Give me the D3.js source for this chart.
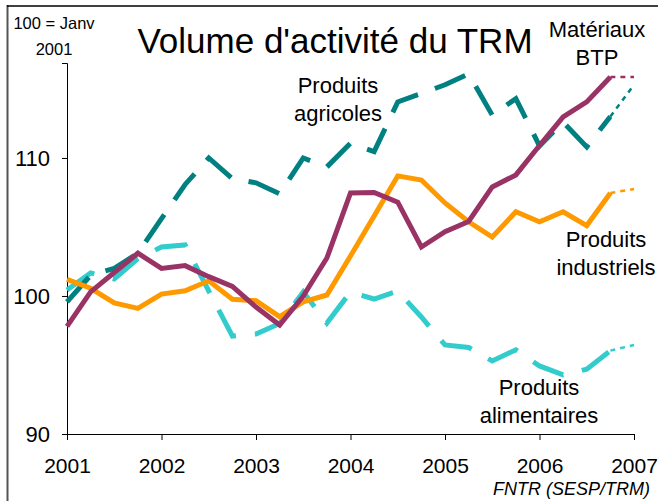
<!DOCTYPE html>
<html>
<head>
<meta charset="utf-8">
<script src="https://cdn.jsdelivr.net/npm/d3@7"></script>
<style>
  html, body { margin: 0; padding: 0; background: #fff; }
  svg { display: block; font-family: "Liberation Sans", Arial, sans-serif; }
</style>
</head>
<body>
<svg id="chart" width="658" height="501"></svg>
<script>
// ---- Data (quarterly index, 100 = Janv 2001; last point is a forecast) ----
const years = [2001, 2002, 2003, 2004, 2005, 2006, 2007];
const yTicks = [90, 100, 110];
const materiauxBTP = [97.8, 100.3, 101.7, 103.1, 102.0, 102.2, 101.4, 100.7, 99.2, 97.9, 100.0, 102.75, 107.46, 107.5, 106.8, 103.55, 104.66, 105.4, 107.9, 108.77, 110.9, 112.97, 114.06, 115.87, 115.87];
const produitsIndustriels = [101.2, 100.56, 99.5, 99.1, 100.14, 100.38, 101.1, 99.76, 99.66, 98.5, 99.57, 100.07, 102.9, 105.8, 108.7, 108.4, 106.74, 105.38, 104.27, 106.1, 105.38, 106.1, 105.1, 107.46, 107.75];
const produitsAgricoles = [99.57, 101.5, 102.0, 103.1, 105.6, 108.08, 110.0, 108.5, 108.2, 107.4, 110.0, 109.35, 111.07, 110.46, 114.06, 114.67, 115.3, 116.09, 113.1, 114.3, 110.87, 112.6, 110.8, 113.0, 115.3];
const produitsAlimentaires = [100.43, 101.67, 101.23, 102.7, 103.55, 103.7, 100.36, 97.1, 97.25, 98.0, 100.29, 98.04, 100.29, 99.78, 100.36, 98.48, 96.45, 96.27, 95.29, 96.1, 94.93, 94.28, 94.7, 96.04, 96.45];

const series = [
  { name: "Produits alimentaires", values: produitsAlimentaires, color: "#33CCCC", dash: "33,19" },
  { name: "Produits agricoles", values: produitsAgricoles, color: "#008080", dash: "33,18" },
  { name: "Produits industriels", values: produitsIndustriels, color: "#FF9900", dash: null },
  { name: "Matériaux BTP", values: materiauxBTP, color: "#993366", dash: null }
];

const labels = [
  { lines: ["Matériaux", "BTP"], x: 597, y: 37 },
  { lines: ["Produits", "agricoles"], x: 338, y: 93 },
  { lines: ["Produits", "industriels"], x: 606, y: 247 },
  { lines: ["Produits", "alimentaires"], x: 539, y: 395 }
];

const svg = d3.select("#chart");

// frame
svg.append("line").attr("x1", 7.5).attr("x2", 7.5).attr("y1", 5).attr("y2", 501)
  .attr("stroke", "#555").attr("stroke-width", 2);
svg.append("line").attr("x1", 7).attr("x2", 658).attr("y1", 6).attr("y2", 6)
  .attr("stroke", "#000").attr("stroke-width", 1.5);

const x = d3.scaleLinear().domain([2001, 2007]).range([67, 634]);
const y = d3.scaleLinear().domain([90, 116.88]).range([434, 63]);
const t = i => 2001 + i / 4;

// axes
const xAxis = d3.axisBottom(x).tickValues(years).tickFormat(d3.format("d")).tickSizeOuter(0).tickSize(6).tickPadding(18);
const gx = svg.append("g").attr("transform", "translate(0,434)").call(xAxis);
gx.select(".domain").attr("stroke", "#000");
gx.selectAll(".tick line").attr("stroke", "#000");
gx.selectAll("text").attr("font-size", 21).attr("fill", "#000")
  .attr("font-family", "Liberation Sans, Arial, sans-serif");

const yAxis = d3.axisLeft(y).tickValues(yTicks).tickSizeOuter(0).tickSize(5).tickPadding(12);
const gy = svg.append("g").attr("transform", "translate(67,0)").call(yAxis);
gy.select(".domain").attr("stroke", "#000");
gy.selectAll(".tick line").attr("stroke", "#000");
gy.selectAll("text").attr("font-size", 22).attr("fill", "#000")
  .attr("font-family", "Liberation Sans, Arial, sans-serif");

// lines
const line = d3.line().x(d => x(t(d.i))).y(d => y(d.v));
series.forEach(s => {
  const pts = s.values.map((v, i) => ({ i, v }));
  const n = pts.length;
  svg.append("path").datum(pts.slice(0, n - 1))
    .attr("d", line).attr("fill", "none")
    .attr("stroke", s.color).attr("stroke-width", 5)
    .attr("stroke-linejoin", "miter")
    .attr("stroke-dasharray", s.dash);
  svg.append("path").datum(pts.slice(n - 2))
    .attr("d", line).attr("fill", "none")
    .attr("stroke", s.color).attr("stroke-width", 2.5)
    .attr("stroke-dasharray", "5,5");
});

// title
svg.append("text").attr("x", 335).attr("y", 53).attr("text-anchor", "middle")
  .attr("font-size", 35).attr("fill", "#000").text("Volume d'activité du TRM");

// base note
svg.append("text").attr("x", 54).attr("y", 29).attr("text-anchor", "middle")
  .attr("font-size", 16.5).text("100 = Janv");
svg.append("text").attr("x", 54).attr("y", 55).attr("text-anchor", "middle")
  .attr("font-size", 16.5).text("2001");

// series labels
labels.forEach(l => {
  l.lines.forEach((txt, k) => {
    svg.append("text").attr("x", l.x).attr("y", l.y + k * 28)
      .attr("text-anchor", "middle").attr("font-size", 22).attr("fill", "#000").text(txt);
  });
});

// source
svg.append("text").attr("x", 650).attr("y", 495).attr("text-anchor", "end")
  .attr("font-size", 18).attr("font-style", "italic").text("FNTR (SESP/TRM)");
</script>
</body>
</html>
